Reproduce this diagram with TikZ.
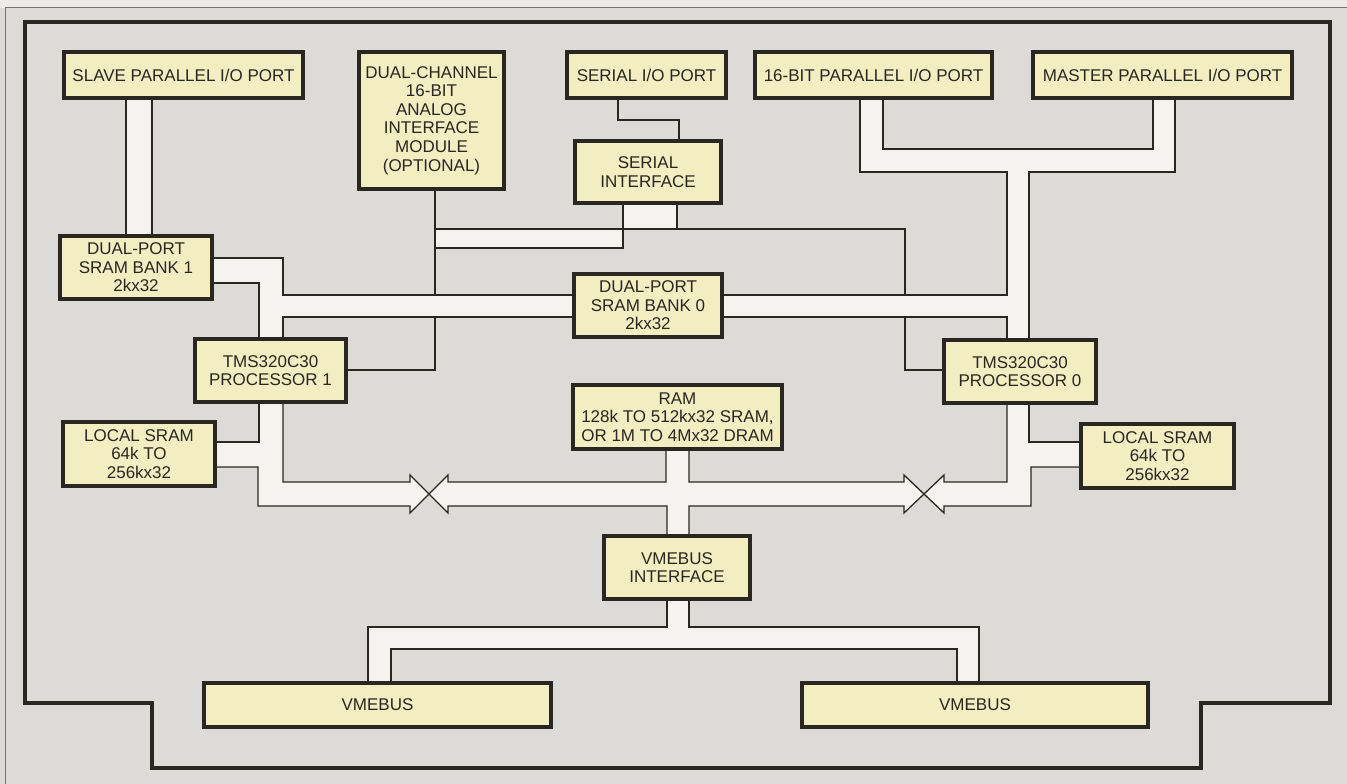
\documentclass[tikz,border=0pt]{standalone}
\usepackage{fontspec}
\setmainfont{Liberation Sans}
\pgfdeclarelayer{bg}
\pgfdeclarelayer{bus}
\pgfsetlayers{bg,bus,main}
\definecolor{paper}{HTML}{DDDBD7}
\definecolor{paperlight}{HTML}{ECEBE7}
\definecolor{boxfill}{HTML}{F3EDC2}
\definecolor{busfill}{HTML}{F4F3EF}
\definecolor{ink}{HTML}{2A2622}
\definecolor{frame}{HTML}{77746F}
\tikzset{
  blk/.style={draw=ink, fill=boxfill, line width=4pt, text=ink, align=center,
    inner sep=0pt, font=\fontsize{17}{18.6}\selectfont},
  wire/.style={draw=ink, line width=1.3pt, line join=miter},
  busarea/.style={fill=busfill},
  board/.style={draw=ink, line width=4pt, line join=miter},
}
\begin{document}
\begin{tikzpicture}[x=1pt, y=-1pt]
\useasboundingbox (0,0) rectangle (1347,784);
\begin{pgfonlayer}{bg}
  \fill[paper] (0,0) rectangle (1347,784);
  \fill[paperlight] (0,0) rectangle (1347,8);
  \draw[frame, line width=1pt] (5,784) -- (5,8) -- (1347,8);
  \draw[board] (25,22) -- (1330,22) -- (1330,703) -- (1201,703) -- (1201,768)
    -- (152,768) -- (152,703) -- (25,703) -- cycle;
\end{pgfonlayer}

% blocks
\node[blk, minimum width=239pt, minimum height=46pt] (slave) at (183.5,75) {SLAVE PARALLEL I/O PORT};
\node[blk, minimum width=145pt, minimum height=137pt] (analog) at (431.5,120.5) {DUAL-CHANNEL\\16-BIT\\ANALOG\\INTERFACE\\MODULE\\(OPTIONAL)};
\node[blk, minimum width=159pt, minimum height=46pt] (serialio) at (646.5,75) {SERIAL I/O PORT};
\node[blk, minimum width=237pt, minimum height=46pt] (par16) at (873.5,75) {16-BIT PARALLEL I/O PORT};
\node[blk, minimum width=259pt, minimum height=46pt] (master) at (1162.5,75) {MASTER PARALLEL I/O PORT};
\node[blk, minimum width=146pt, minimum height=62pt] (serialif) at (648,172) {SERIAL\\INTERFACE};
\node[blk, minimum width=152pt, minimum height=63pt] (sram1) at (136,267.5) {DUAL-PORT\\SRAM BANK 1\\2kx32};
\node[blk, minimum width=148pt, minimum height=63pt] (sram0) at (648,305.5) {DUAL-PORT\\SRAM BANK 0\\2kx32};
\node[blk, minimum width=151pt, minimum height=63pt] (proc1) at (270.5,370.5) {TMS320C30\\PROCESSOR 1};
\node[blk, minimum width=152pt, minimum height=63pt] (proc0) at (1020,371.5) {TMS320C30\\PROCESSOR 0};
\node[blk, minimum width=152pt, minimum height=64pt] (lsram1) at (139,454) {LOCAL SRAM\\64k TO\\256kx32};
\node[blk, minimum width=153pt, minimum height=64pt] (lsram0) at (1157.5,456) {LOCAL SRAM\\64k TO\\256kx32};
\node[blk, minimum width=209pt, minimum height=64pt] (ram) at (677.5,417) {RAM\\128k TO 512kx32 SRAM,\\OR 1M TO 4Mx32 DRAM};
\node[blk, minimum width=146pt, minimum height=63pt] (vmeif) at (677,567.5) {VMEBUS\\INTERFACE};
\node[blk, minimum width=347pt, minimum height=44pt] (vme1) at (377.5,705) {VMEBUS};
\node[blk, minimum width=346pt, minimum height=44pt] (vme2) at (975,705) {VMEBUS};

% white bus areas
\begin{pgfonlayer}{bus}
  \fill[busarea] (126,100) rectangle (152,234);
  \fill[busarea] (623,205) rectangle (677,229);
  \fill[busarea] (435,229) rectangle (623,248);
  \fill[busarea] (214,258) -- (283,258) -- (283,295) -- (572,295) -- (572,317) -- (283,317)
    -- (283,337) -- (259,337) -- (259,283) -- (214,283) -- cycle;
  \fill[busarea] (860,100) -- (883,100) -- (883,149) -- (1153,149) -- (1153,100) -- (1175,100)
    -- (1175,172) -- (1029,172) -- (1029,338) -- (1007,338) -- (1007,317) -- (724,317)
    -- (724,295) -- (1007,295) -- (1007,172) -- (860,172) -- cycle;
  \fill[busarea] (259,404) -- (283,404) -- (283,482) -- (410,482) -- (410,475) -- (429,494)
    -- (410,513) -- (410,506) -- (258,506) -- (258,467) -- (217,467) -- (217,442) -- (259,442) -- cycle;
  \fill[busarea] (429,494) -- (448,475) -- (448,482) -- (666,482) -- (666,451) -- (689,451)
    -- (689,482) -- (904,482) -- (904,475) -- (924,494) -- (904,513) -- (904,506) -- (689,506)
    -- (689,534) -- (667,534) -- (667,506) -- (448,506) -- (448,513) -- cycle;
  \fill[busarea] (924,494) -- (944,475) -- (944,482) -- (1007,482) -- (1007,405) -- (1029,405)
    -- (1029,442) -- (1079,442) -- (1079,467) -- (1031,467) -- (1031,506) -- (944,506)
    -- (944,513) -- cycle;
  \fill[busarea] (667,601) -- (689,601) -- (689,627) -- (979,627) -- (979,681) -- (957,681)
    -- (957,649) -- (391,649) -- (391,681) -- (368,681) -- (368,627) -- (667,627) -- cycle;
\end{pgfonlayer}

% connectors
\draw[wire] (slave.south -| 126,0) -- (sram1.north -| 126,0);
\draw[wire] (slave.south -| 152,0) -- (sram1.north -| 152,0);

\draw[wire] (sram1.east |- 0,258) -- (283,258) -- (283,295) -- (sram0.west |- 0,295);
\draw[wire] (sram1.east |- 0,283) -- (259,283) -- (proc1.north -| 259,0);
\draw[wire] (proc1.north -| 283,0) -- (283,317) -- (sram0.west |- 0,317);

\draw[wire] (analog.south -| 435,0) -- (435,295);
\draw[wire] (435,317) -- (435,370) -- (proc1.east |- 0,370);

\draw[wire] (serialio.south -| 618,0) -- (618,120) -- (679,120) -- (serialif.north -| 679,0);
\draw[wire] (serialif.south -| 623,0) -- (623,248) -- (435,248);
\draw[wire] (serialif.south -| 677,0) -- (677,229);
\draw[wire] (435,229) -- (905,229) -- (905,295);
\draw[wire] (905,317) -- (905,370) -- (proc0.west |- 0,370);

\draw[wire] (par16.south -| 860,0) -- (860,172) -- (1007,172) -- (1007,295) -- (sram0.east |- 0,295);
\draw[wire] (par16.south -| 883,0) -- (883,149) -- (1153,149) -- (master.south -| 1153,0);
\draw[wire] (master.south -| 1175,0) -- (1175,172) -- (1029,172) -- (proc0.north -| 1029,0);
\draw[wire] (sram0.east |- 0,317) -- (1007,317) -- (proc0.north -| 1007,0);

\draw[wire] (proc1.south -| 259,0) -- (259,442) -- (lsram1.east |- 0,442);
\draw[wire] (proc1.south -| 283,0) -- (283,482) -- (410,482) -- (410,475) -- (448,513)
  -- (448,506) -- (667,506) -- (vmeif.north -| 667,0);
\draw[wire] (lsram1.east |- 0,467) -- (258,467) -- (258,506) -- (410,506) -- (410,513)
  -- (448,475) -- (448,482) -- (666,482) -- (ram.south -| 666,0);

\draw[wire] (ram.south -| 689,0) -- (689,482) -- (904,482) -- (904,475) -- (944,513)
  -- (944,506) -- (1031,506) -- (1031,467) -- (lsram0.west |- 0,467);
\draw[wire] (vmeif.north -| 689,0) -- (689,506) -- (904,506) -- (904,513) -- (944,475)
  -- (944,482) -- (1007,482) -- (proc0.south -| 1007,0);
\draw[wire] (proc0.south -| 1029,0) -- (1029,442) -- (lsram0.west |- 0,442);

\draw[wire] (vmeif.south -| 667,0) -- (667,627) -- (368,627) -- (vme1.north -| 368,0);
\draw[wire] (vme1.north -| 391,0) -- (391,649) -- (957,649) -- (vme2.north -| 957,0);
\draw[wire] (vmeif.south -| 689,0) -- (689,627) -- (979,627) -- (vme2.north -| 979,0);
\end{tikzpicture}
\end{document}
